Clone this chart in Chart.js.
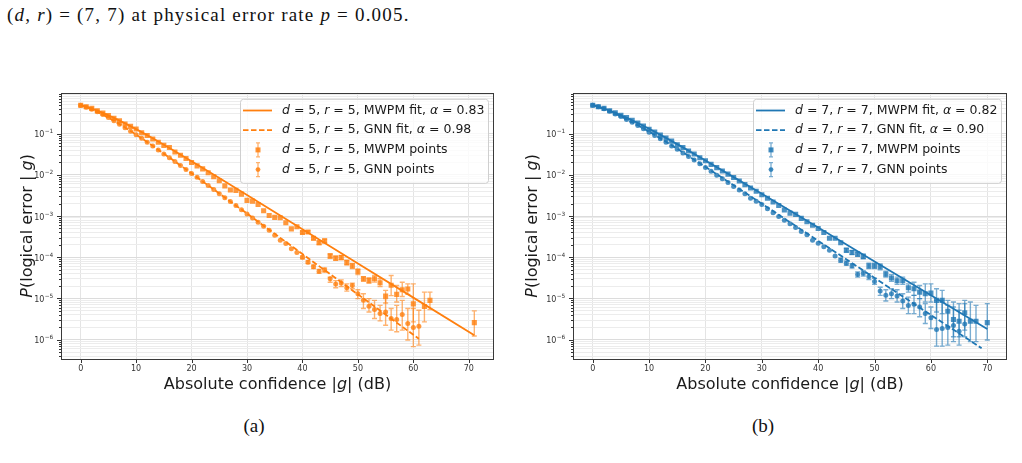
<!DOCTYPE html>
<html>
<head>
<meta charset="utf-8">
<script src="https://cdn.jsdelivr.net/npm/chart.js@4.4.1/dist/chart.umd.min.js"></script>
<style>
  body { margin: 0; background: #fff; }
  #page { position: relative; width: 1022px; height: 463px; overflow: hidden; }
  canvas { position: absolute; top: 80px; }
  #chartA { left: 0; }
  #chartB { left: 510px; }
  .serif { position: absolute; font-family: "Liberation Serif", "DejaVu Serif", serif; color: #111; white-space: nowrap; }
  #topline { left: 7px; top: 4px; font-size: 19px; line-height: 22px; letter-spacing: 1.2px; }
  .cap { top: 415px; font-size: 19px; line-height: 22px; width: 60px; text-align: center; }
  #capA { left: 224px; }
  #capB { left: 733px; }
</style>
</head>
<body>
<div id="page">
  <div id="topline" class="serif">(<i>d</i>, <i>r</i>) = (7, 7) at physical error rate <i>p</i> = 0.005.</div>
  <canvas id="chartA" width="510" height="320"></canvas>
  <canvas id="chartB" width="512" height="320"></canvas>
  <div id="capA" class="serif cap">(a)</div>
  <div id="capB" class="serif cap">(b)</div>
</div>
<script>
// ---- (a) d = 5, r = 5 ----
const gA_mwpm = [0,1,2,3,4,5,6,7,8,9,10,11,12,13,14,15,16,17,18,19,20,21,22,23,24,25,26,27,28,29,
  30,31,32,33,34,35,36,37,38,39,40,41,42,43,44,45,46,47,48,49,50,51,52,53,54,55,56,57,58,59,60,62,63,71];
const pA_mwpm = [0.49,0.45,0.41,0.36,0.315,0.275,0.235,0.205,0.172,0.15,
  0.13,0.105,0.09,0.074,0.062,0.052,0.046,0.036,0.030,0.025,
  0.020,0.0165,0.014,0.0112,0.0090,0.0072,0.0054,0.0043,0.0042,0.0034,
  0.0024,0.0023,0.0019,0.00135,0.00103,9.3e-4,9.1e-4,6.9e-4,4.9e-4,5.5e-4,
  4.0e-4,4.1e-4,2.9e-4,2.26e-4,2.5e-4,1.08e-4,9.5e-5,9.9e-5,7.5e-5,6.2e-5,
  4.5e-5,3.0e-5,2.75e-5,3.0e-5,2.4e-5,1.15e-5,2.1e-5,1.26e-5,1.63e-5,1.7e-5,
  7.4e-6,6.4e-6,9.0e-6,2.6e-6];
const eA_mwpm_g = [40,41,42,43,44,45,46,47,48,49,50,51,52,53,54,55,56,57,58,59,60,62,63,71];
const eA_mwpm_lo = [3.7e-4,3.8e-4,2.65e-4,2.05e-4,2.25e-4,9.5e-5,8.4e-5,8.7e-5,6.5e-5,5.3e-5,
  3.8e-5,2.6e-5,2.35e-5,2.5e-5,1.95e-5,7.8e-6,1.17e-5,8.2e-6,1.12e-5,1.26e-5,2.7e-6,2.7e-6,5.4e-6,1.23e-6];
const eA_mwpm_hi = [4.3e-4,4.4e-4,3.15e-4,2.5e-4,2.75e-4,1.2e-4,1.07e-4,1.11e-4,8.5e-5,7.1e-5,
  5.2e-5,3.4e-5,3.15e-5,3.6e-5,3.0e-5,1.57e-5,3.6e-5,2.07e-5,2.48e-5,2.26e-5,2.26e-5,1.43e-5,1.43e-5,5.0e-6];

const gA_gnn = [0,1,2,3,4,5,6,7,8,9,10,11,12,13,14,15,16,17,18,19,20,21,22,23,24,25,26,27,28,29,
  30,31,32,33,34,35,36,37,38,39,40,41,42,43,44,45,46,47,48,49,50,51,52,53,54,55,56,57,58,59,60,61];
const pA_gnn = [0.48,0.44,0.39,0.34,0.29,0.245,0.205,0.17,0.14,0.115,
  0.094,0.077,0.062,0.05,0.040,0.032,0.026,0.021,0.0168,0.0135,
  0.0108,0.0087,0.0069,0.0055,0.0044,0.0035,0.0028,0.00225,0.0018,0.00142,
  0.00113,9.0e-4,7.1e-4,5.7e-4,4.5e-4,3.4e-4,2.6e-4,2.15e-4,1.6e-4,1.3e-4,
  1.0e-4,7.6e-5,5.9e-5,4.6e-5,4.9e-5,3.0e-5,2.26e-5,2.39e-5,1.82e-5,2.07e-5,
  1.3e-5,9.0e-6,6.45e-6,5.37e-6,4.3e-6,4.7e-6,3.26e-6,3.08e-6,4.07e-6,2.47e-6,
  1.98e-6,2.13e-6];
const eA_gnn_g = [40,41,42,43,44,45,46,47,48,49,50,51,52,53,54,55,56,57,58,59,60,61];
const eA_gnn_lo = [9.2e-5,7.0e-5,5.3e-5,4.1e-5,4.4e-5,2.48e-5,1.82e-5,1.95e-5,1.51e-5,1.72e-5,
  9.9e-6,5.7e-6,4.7e-6,3.26e-6,2.86e-6,2.25e-6,1.71e-6,1.56e-6,1.71e-6,9.8e-7,6.8e-7,7.4e-7];
const eA_gnn_hi = [1.08e-4,8.3e-5,6.5e-5,5.1e-5,5.5e-5,3.27e-5,2.72e-5,2.83e-5,2.26e-5,2.35e-5,
  1.63e-5,1.3e-5,9.9e-6,9.0e-6,6.8e-6,9.9e-6,5.7e-6,6.8e-6,9.0e-6,5.7e-6,5.7e-6,5.2e-6];

const fitA_mwpm_g = [0,2,4,6,8,10,13,16,20,25,30,40,50,60,71];
const fitA_mwpm_p = [0.5,0.405,0.318,0.241,0.178,0.129,0.077,0.0449,0.0214,0.0084,0.00323,4.79e-4,7.08e-5,1.05e-5,1.28e-6];
const fitA_gnn_g = [0,2,4,6,8,10,13,16,20,25,30,40,50,61];
const fitA_gnn_p = [0.5,0.389,0.289,0.205,0.141,0.0948,0.0505,0.0263,0.0109,0.00353,1.15e-3,1.2e-4,1.26e-5,1.05e-6];

// ---- (b) d = 7, r = 7 ----
const gB_mwpm = [0,1,2,3,4,5,6,7,8,9,10,11,12,13,14,15,16,17,18,19,20,21,22,23,24,25,26,27,28,29,
  30,31,32,33,34,35,36,37,38,39,40,41,42,43,44,45,46,47,48,49,50,51,52,53,54,55,56,57,58,59,
  60,61,62,63,64,65,66,67,68,70];
const pB_mwpm = [0.49,0.45,0.41,0.36,0.32,0.28,0.245,0.21,0.18,0.152,
  0.128,0.11,0.092,0.078,0.066,0.054,0.046,0.038,0.032,0.026,
  0.022,0.018,0.015,0.0124,0.0104,0.0086,0.0071,0.0058,0.0048,0.0040,
  0.0033,0.0027,0.0022,0.0018,0.0014,0.00118,0.0011,8.8e-4,7.3e-4,6.0e-4,
  5.0e-4,4.0e-4,2.9e-4,2.9e-4,2.26e-4,1.48e-4,1.31e-4,1.19e-4,1.05e-4,6.2e-5,
  6.2e-5,5.9e-5,3.9e-5,3.15e-5,2.7e-5,2.7e-5,1.82e-5,1.72e-5,1.43e-5,1.3e-5,
  1.35e-5,9.0e-6,9.0e-6,4.9e-6,3.1e-6,2.8e-6,4.5e-6,2.8e-6,2.8e-6,2.6e-6];
const eB_mwpm_g = [45,46,47,48,49,50,51,52,53,54,55,56,57,58,59,60,61,62,63,64,65,66,67,68,70];
const eB_mwpm_lo = [1.32e-4,1.16e-4,1.05e-4,9.2e-5,5.3e-5,5.3e-5,5.0e-5,3.3e-5,2.6e-5,2.2e-5,
  2.2e-5,1.43e-5,1.19e-5,9.9e-6,8.2e-6,8.2e-6,4.7e-6,4.3e-6,2.06e-6,1.18e-6,1.18e-6,1.71e-6,9.0e-7,9.0e-7,9.8e-7];
const eB_mwpm_hi = [1.66e-4,1.47e-4,1.34e-4,1.19e-4,7.2e-5,7.2e-5,6.9e-5,4.6e-5,3.8e-5,3.3e-5,
  3.3e-5,2.26e-5,2.48e-5,2.07e-5,2.26e-5,2.26e-5,1.72e-5,1.57e-5,9.0e-6,8.2e-6,7.5e-6,9.0e-6,8.2e-6,6.8e-6,7.5e-6];

const gB_gnn = [0,1,2,3,4,5,6,7,8,9,10,11,12,13,14,15,16,17,18,19,20,21,22,23,24,25,26,27,28,29,
  30,31,32,33,34,35,36,37,38,39,40,41,42,43,44,45,46,47,48,49,50,51,52,53,54,55,56,57,58,59,
  60,61,62,63,64,65,66];
const pB_gnn = [0.49,0.45,0.40,0.35,0.30,0.26,0.22,0.19,0.158,0.132,
  0.108,0.090,0.075,0.062,0.050,0.042,0.034,0.028,0.023,0.0185,
  0.0150,0.0123,0.0098,0.0080,0.0065,0.0052,0.0043,0.0035,0.0027,0.0023,
  0.0019,0.0015,0.0012,9.8e-4,7.9e-4,6.5e-4,5.3e-4,4.2e-4,3.5e-4,2.6e-4,
  2.2e-4,1.79e-4,1.49e-4,1.08e-4,8.5e-5,7.2e-5,6.2e-5,3.8e-5,4.1e-5,3.4e-5,
  2.6e-5,1.51e-5,1.19e-5,1.3e-5,1.15e-5,8.7e-6,6.8e-6,7.2e-6,6.2e-6,4.3e-6,
  3.4e-6,1.77e-6,1.87e-6,1.98e-6,2.2e-6,1.6e-6,2.4e-6];
const eB_gnn_g = [44,45,46,47,48,49,50,51,52,53,54,55,56,57,58,59,60,61,62,63,64,65,66];
const eB_gnn_lo = [7.6e-5,6.4e-5,5.5e-5,3.3e-5,3.5e-5,2.9e-5,2.2e-5,1.19e-5,8.7e-6,9.9e-6,8.2e-6,5.7e-6,
  4.3e-6,4.3e-6,3.6e-6,2.47e-6,1.87e-6,7.0e-7,7.0e-7,7.4e-7,9.0e-7,7.4e-7,1.18e-6];
const eB_gnn_hi = [9.5e-5,8.1e-5,7.0e-5,4.4e-5,4.7e-5,4.0e-5,3.1e-5,1.88e-5,1.63e-5,1.72e-5,1.63e-5,1.3e-5,
  1.08e-5,1.19e-5,9.9e-6,7.5e-6,6.2e-6,9.0e-6,9.0e-6,6.8e-6,6.2e-6,5.2e-6,7.5e-6];

const fitB_mwpm_g = [0,2,4,6,8,10,13,16,20,25,30,40,50,60,70];
const fitB_mwpm_p = [0.5,0.407,0.32,0.244,0.181,0.1315,0.079,0.0465,0.0224,0.0088,0.00346,5.25e-4,7.94e-5,1.2e-5,1.82e-6];
const fitB_gnn_g = [0,2,4,6,8,10,13,16,20,25,30,40,50,60,69];
const fitB_gnn_p = [0.5,0.398,0.304,0.224,0.160,0.112,0.0633,0.0351,0.0156,0.0056,0.002,2.51e-4,3.16e-5,3.98e-6,6.2e-7];

// axes
const xTicks = [0,10,20,30,40,50,60,70];
const yLabelExps = [-6,-5,-4,-3,-2,-1];
const yMin = 3.4e-7, yMax = 0.98;

const ORANGE = [255,127,14], BLUE = [31,119,180];
const rgba = (c, a) => 'rgba(' + c.join(',') + ',' + a + ')';
const pts = (g, p) => g.map((x, i) => ({ x: x, y: p[i] }));

function isDecade(v) {
  const e = Math.round(Math.log10(v));
  return Math.abs(v / Math.pow(10, e) - 1) < 1e-6;
}

// gridline positions 1..9 x 10^e inside the y range
function yGridValues() {
  const out = [];
  for (let e = -7; e <= 0; e++) {
    for (let k = 1; k <= 9; k++) {
      const v = k * Math.pow(10, e);
      if (v >= yMin && v <= yMax) out.push(v);
    }
  }
  return out;
}

// text with italic pieces, like matplotlib mathtext
function drawRich(ctx, parts, x, y, size, center) {
  const fonts = parts.map(p => (p[1] ? 'italic ' : '') + size + 'px "DejaVu Sans"');
  let w = 0;
  parts.forEach((p, i) => { ctx.font = fonts[i]; w += ctx.measureText(p[0]).width; });
  let cx = center ? x - w / 2 : x;
  ctx.textAlign = 'left';
  parts.forEach((p, i) => {
    ctx.font = fonts[i];
    ctx.fillText(p[0], cx, y);
    cx += ctx.measureText(p[0]).width;
  });
}

function drawMarker(ctx, style, x, y) {
  ctx.beginPath();
  if (style === 'rect') ctx.rect(x - 2.5, y - 2.5, 5, 5);
  else ctx.arc(x, y, 2.4, 0, Math.PI * 2);
  ctx.fill();
}

const figurePlugin = {
  id: 'figure',
  beforeDatasetsDraw(chart, args, opts) {
    const ctx = chart.ctx, xs = chart.scales.x, ys = chart.scales.y, a = chart.chartArea;
    ctx.save();
    ctx.beginPath();
    ctx.rect(a.left, a.top, a.right - a.left, a.bottom - a.top);
    ctx.clip();
    ctx.strokeStyle = rgba(opts.color, 0.6);
    ctx.lineWidth = 1.4;
    opts.bars.forEach(b => {
      b.g.forEach((g, i) => {
        const x = xs.getPixelForValue(g);
        const y1 = ys.getPixelForValue(b.lo[i]), y2 = ys.getPixelForValue(b.hi[i]);
        ctx.beginPath();
        ctx.moveTo(x, y1); ctx.lineTo(x, y2);
        ctx.moveTo(x - 2.5, y1); ctx.lineTo(x + 2.5, y1);
        ctx.moveTo(x - 2.5, y2); ctx.lineTo(x + 2.5, y2);
        ctx.stroke();
      });
    });
    ctx.restore();
  },
  afterDraw(chart, args, opts) {
    const ctx = chart.ctx, xs = chart.scales.x, ys = chart.scales.y, a = chart.chartArea;
    ctx.save();
    // tick marks
    ctx.strokeStyle = '#333';
    ctx.lineWidth = 1;
    ys.ticks.forEach(t => {
      const y = Math.round(ys.getPixelForValue(t.value)) + 0.5;
      const len = isDecade(t.value) ? 4 : 2;
      ctx.beginPath(); ctx.moveTo(a.left - len, y); ctx.lineTo(a.left, y); ctx.stroke();
    });
    xs.ticks.forEach(t => {
      const x = Math.round(xs.getPixelForValue(t.value)) + 0.5;
      ctx.beginPath(); ctx.moveTo(x, a.bottom); ctx.lineTo(x, a.bottom + 4); ctx.stroke();
    });
    // y tick labels 10^e with a raised exponent
    ctx.fillStyle = '#333';
    ctx.textAlign = 'left';
    ctx.textBaseline = 'alphabetic';
    yLabelExps.forEach(e => {
      const y = ys.getPixelForValue(Math.pow(10, e));
      const ex = '\u2212' + Math.abs(e);
      ctx.font = '8px "DejaVu Sans"';
      const w1 = ctx.measureText('10').width;
      ctx.font = '5.8px "DejaVu Sans"';
      const w2 = ctx.measureText(ex).width;
      const x0 = a.left - 8 - w1 - w2;
      ctx.font = '8px "DejaVu Sans"';
      ctx.fillText('10', x0, y + 3.5);
      ctx.font = '5.8px "DejaVu Sans"';
      ctx.fillText(ex, x0 + w1 + 0.3, y - 0.5);
    });
    // frame
    ctx.strokeStyle = '#3a3a3a';
    ctx.strokeRect(Math.round(a.left) + 0.5, Math.round(a.top) + 0.5,
      Math.round(a.right - a.left) - 1, Math.round(a.bottom - a.top));

    // axis titles
    ctx.fillStyle = '#1a1a1a';
    ctx.textBaseline = 'middle';
    drawRich(ctx, [['Absolute confidence |', false], ['g', true], ['| (dB)', false]],
      (a.left + a.right) / 2, a.bottom + 26, 16, true);
    ctx.save();
    ctx.translate(opts.yTitleX, (a.top + a.bottom) / 2);
    ctx.rotate(-Math.PI / 2);
    drawRich(ctx, [['P', true], ['(logical error | ', false], ['g', true], [')', false]], 0, 0, 16, true);
    ctx.restore();

    // legend
    const w = 248, h = 84;
    const bx = a.right - 6 - w, by = a.top + 6;
    ctx.fillStyle = 'rgba(255,255,255,0.8)';
    ctx.strokeStyle = '#cfcfcf';
    ctx.beginPath();
    ctx.roundRect(bx + 0.5, by + 0.5, w, h, 3);
    ctx.fill();
    ctx.stroke();
    const c = opts.color;
    opts.legend.forEach((row, i) => {
      const y = by + 11.7 + i * 19.7;
      ctx.strokeStyle = rgba(c, 1);
      ctx.lineWidth = 1.8;
      if (i < 2) {
        ctx.setLineDash(i === 1 ? [5.5, 2.5] : []);
        ctx.beginPath(); ctx.moveTo(bx + 3, y); ctx.lineTo(bx + 32, y); ctx.stroke();
        ctx.setLineDash([]);
      } else {
        const mx = bx + 18;
        ctx.strokeStyle = rgba(c, 0.6);
        ctx.lineWidth = 1.3;
        ctx.beginPath();
        ctx.moveTo(mx, y - 7); ctx.lineTo(mx, y + 7);
        ctx.moveTo(mx - 2, y - 7); ctx.lineTo(mx + 2, y - 7);
        ctx.moveTo(mx - 2, y + 7); ctx.lineTo(mx + 2, y + 7);
        ctx.stroke();
        ctx.fillStyle = rgba(c, 0.85);
        drawMarker(ctx, i === 2 ? 'rect' : 'circle', mx, y);
      }
      ctx.fillStyle = '#1a1a1a';
      drawRich(ctx, row, bx + 42, y, 12.5, false);
    });
    ctx.restore();
  }
};

function legendRows(n, aM, aG) {
  const head = [['d', true], [' = ' + n + ', ', false], ['r', true], [' = ' + n + ', ', false]];
  return [
    head.concat([['MWPM fit, ', false], ['\u03B1', true], [' = ' + aM, false]]),
    head.concat([['GNN fit, ', false], ['\u03B1', true], [' = ' + aG, false]]),
    head.concat([['MWPM points', false]]),
    head.concat([['GNN points', false]])
  ];
}

function makeChart(id, cfg) {
  const c = cfg.color;
  return new Chart(document.getElementById(id), {
    type: 'scatter',
    data: {
      datasets: [
        { label: 'MWPM fit', data: pts(cfg.fitM[0], cfg.fitM[1]), showLine: true, fill: false,
          borderColor: rgba(c, 1), borderWidth: 1.8, pointRadius: 0, order: 1 },
        { label: 'GNN fit', data: pts(cfg.fitG[0], cfg.fitG[1]), showLine: true, fill: false,
          borderColor: rgba(c, 1), borderWidth: 1.8, borderDash: [5.5, 2.5], pointRadius: 0, order: 1 },
        { label: 'MWPM points', data: pts(cfg.ptsM[0], cfg.ptsM[1]), pointStyle: 'rect', pointRadius: 3.6,
          backgroundColor: rgba(c, 0.8), borderWidth: 0, order: 0 },
        { label: 'GNN points', data: pts(cfg.ptsG[0], cfg.ptsG[1]), pointStyle: 'circle', pointRadius: 2.5,
          backgroundColor: rgba(c, 0.8), borderWidth: 0, order: 0 }
      ]
    },
    options: {
      responsive: false,
      animation: false,
      devicePixelRatio: 1,
      layout: { padding: { left: 0, right: cfg.padRight, top: 10, bottom: 0 } },
      plugins: {
        legend: { display: false },
        tooltip: { enabled: false },
        figure: { color: c, bars: cfg.bars, legend: cfg.legend, yTitleX: cfg.yTitleX }
      },
      scales: {
        x: {
          type: 'linear', min: cfg.xMin, max: cfg.xMax,
          afterBuildTicks: s => { s.ticks = xTicks.map(v => ({ value: v })); },
          afterFit: s => { s.height = 41; },
          grid: { color: '#e4e4e4', drawTicks: false },
          border: { display: false },
          ticks: { font: { family: 'DejaVu Sans', size: 8 }, color: '#333', padding: 5, maxRotation: 0, autoSkip: false }
        },
        y: {
          type: 'logarithmic', min: yMin, max: yMax,
          afterBuildTicks: s => { s.ticks = yGridValues().map(v => ({ value: v })); },
          afterFit: s => { s.width = cfg.yAxisW; },
          grid: {
            color: ctx => (ctx.tick && isDecade(ctx.tick.value)) ? '#dcdcdc' : '#ececec',
            drawTicks: false
          },
          border: { display: false },
          // labels are drawn by the figure plugin (raised exponent)
          ticks: { font: { family: 'DejaVu Sans', size: 8 }, autoSkip: false, padding: 8, callback: () => '' }
        }
      }
    },
    plugins: [figurePlugin]
  });
}

makeChart('chartA', {
  color: ORANGE, xMin: -3.55, xMax: 74.55, yAxisW: 61, padRight: 16, yTitleX: 28,
  fitM: [fitA_mwpm_g, fitA_mwpm_p], fitG: [fitA_gnn_g, fitA_gnn_p],
  ptsM: [gA_mwpm, pA_mwpm], ptsG: [gA_gnn, pA_gnn],
  bars: [{ g: eA_mwpm_g, lo: eA_mwpm_lo, hi: eA_mwpm_hi }, { g: eA_gnn_g, lo: eA_gnn_lo, hi: eA_gnn_hi }],
  legend: legendRows(5, '0.83', '0.98')
});

makeChart('chartB', {
  color: BLUE, xMin: -3.5, xMax: 73.5, yAxisW: 63, padRight: 15, yTitleX: 23,
  fitM: [fitB_mwpm_g, fitB_mwpm_p], fitG: [fitB_gnn_g, fitB_gnn_p],
  ptsM: [gB_mwpm, pB_mwpm], ptsG: [gB_gnn, pB_gnn],
  bars: [{ g: eB_mwpm_g, lo: eB_mwpm_lo, hi: eB_mwpm_hi }, { g: eB_gnn_g, lo: eB_gnn_lo, hi: eB_gnn_hi }],
  legend: legendRows(7, '0.82', '0.90')
});
</script>
</body>
</html>
